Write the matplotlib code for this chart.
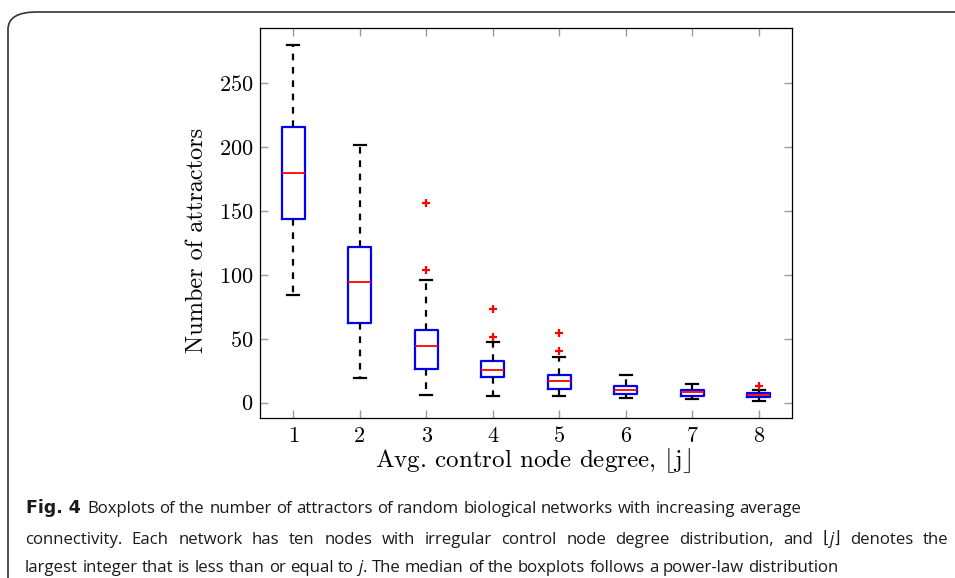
"""
Boxplots: number of attractors vs avg. control node degree (Fig. 4 recreation)
"""

import matplotlib
matplotlib.use('Agg')
import matplotlib.pyplot as plt
from matplotlib.patches import FancyBboxPatch

plt.rcParams['mathtext.fontset'] = 'cm'
plt.rcParams['font.family'] = 'serif'
plt.rcParams['font.serif'] = ['cmr10', 'DejaVu Serif']
plt.rcParams['axes.formatter.use_mathtext'] = True

# data
degrees = [1, 2, 3, 4, 5, 6, 7, 8]
whisker_low = [84, 19, 6, 5, 5, 3.9, 2.9, 1.6]
q1 = [143.5, 62, 26, 20, 10.7, 6.8, 5.5, 4.5]
medians = [179.5, 94, 44, 25.8, 17, 9.9, 8.1, 6.3]
q3 = [215.6, 122, 56.7, 32.4, 21.9, 12.8, 10.2, 7.8]
whisker_high = [280, 201.5, 95.8, 47.7, 35.8, 21.7, 14.9, 9.7]
outliers = [[], [], [156.5, 103.9], [73.6, 51.7], [54.8, 40.2], [], [], [12.8]]

# caption: (text, style) runs; words inside a run are split on spaces
caption_lines = [
    [("Boxplots of the number of attractors of random biological networks with increasing average", 'normal')],
    [("connectivity. Each network has ten nodes with irregular control node degree distribution, and", 'normal'),
     ("\u230a", 'glue'), ("j", 'italic'), ("\u230b", 'glue'), ("denotes the", 'normal')],
    [("largest integer that is less than or equal to", 'normal'),
     ("j", 'italic'), (".", 'glue'),
     ("The median of the boxplots follows a power-law distribution", 'normal')],
]
cap_base = [513, 544, 572]
cap_right = [None, 948, None]

fig = plt.figure(figsize=(9.55, 5.78), dpi=100)
W, H = 955, 578

# rounded frame around the figure (cut off at right and bottom)
frame = FancyBboxPatch((8 / W, -0.2), 1.2, (578 - 12) / H + 0.2,
                       boxstyle='round,pad=0,rounding_size=0.03',
                       transform=fig.transFigure, fill=False,
                       edgecolor='#333333', linewidth=1.2, clip_on=False)
fig.patches.append(frame)

ax = fig.add_axes([260 / W, 1 - 418 / H, (792 - 260) / W, (418 - 28) / H])

stats = []
for i in range(len(degrees)):
    stats.append({
        'med': medians[i], 'q1': q1[i], 'q3': q3[i],
        'whislo': whisker_low[i], 'whishi': whisker_high[i],
        'fliers': outliers[i], 'label': str(degrees[i]),
    })

ax.bxp(stats, positions=degrees, widths=0.35,
       boxprops=dict(color='blue', linewidth=1.6),
       medianprops=dict(color='red', linewidth=1.3),
       whiskerprops=dict(color='black', linewidth=1.6, linestyle=(0, (3, 3))),
       capprops=dict(color='black', linewidth=1.6),
       flierprops=dict(marker='+', markeredgecolor='red', markersize=6, markeredgewidth=1.6))

ax.set_xlim(0.5, 8.5)
ax.set_ylim(-12, 293)
ax.set_yticks([0, 50, 100, 150, 200, 250])
ax.tick_params(direction='in', length=6, color='#999999', width=1,
               top=True, right=True, labelsize=16)
ax.tick_params(axis='x', pad=6)
ax.tick_params(axis='y', pad=5)
for sp in ax.spines.values():
    sp.set_linewidth(0.9)

ax.set_ylabel('Number of attractors', fontsize=17.5)
ax.set_xlabel(r'Avg. control node degree, $\lfloor \mathrm{j} \rfloor$', fontsize=18)
ax.yaxis.set_label_coords((197 - 260) / 532, 1 - (240 - 28) / 390)
ax.xaxis.set_label_coords((533 - 260) / 532, -(467 - 418) / 390)
ax.xaxis.label.set_va('baseline')
ax.yaxis.label.set_va('center')

# caption, laid out word by word
fig.canvas.draw()
renderer = fig.canvas.get_renderer()
CAP_FONT = ['Open Sans', 'DejaVu Sans']
CAP_SIZE = 12.1


def cap_text(x, y, s, size=CAP_SIZE, family=CAP_FONT, **kw):
    return fig.text(x / W, 1 - y / H, s, fontsize=size, family=family,
                    va='baseline', ha='left', color='#1a1a1a', **kw)


probe = cap_text(0, -100, 'a a')
probe2 = cap_text(0, -100, 'aa')
space_w = probe.get_window_extent(renderer).width - probe2.get_window_extent(renderer).width
probe.remove()
probe2.remove()

cap_text(26, cap_base[0], 'Fig. 4', size=12.5, family=['DejaVu Sans'], fontweight='bold')

for li, (line, yy) in enumerate(zip(caption_lines, cap_base)):
    # build tokens: (text, style, space_before)
    tokens = []
    for txt, style in line:
        if style == 'glue':
            tokens.append((txt, 'normal', txt == '\u230a'))
        elif style == 'italic':
            glued = len(tokens) > 0 and tokens[-1][0] == '\u230a'
            tokens.append((txt, 'italic', not glued))
        else:
            for w in txt.split(' '):
                tokens.append((w, 'normal', True))
    x0 = 87 if li == 0 else 25
    artists = []
    for txt, style, sp in tokens:
        t = cap_text(0, yy, txt, fontstyle=style)
        artists.append((t, t.get_window_extent(renderer).width, sp))
    n_spaces = sum(1 for a in artists[1:] if a[2])
    natural = sum(a[1] for a in artists) + n_spaces * space_w
    extra = 0
    if cap_right[li] is not None and n_spaces:
        extra = (cap_right[li] - x0 - natural) / n_spaces
    x = x0
    for k, (t, w, sp) in enumerate(artists):
        if k > 0 and sp:
            x += space_w + extra
        t.set_x(x / W)
        x += w

plt.savefig('out.png', dpi=100)
